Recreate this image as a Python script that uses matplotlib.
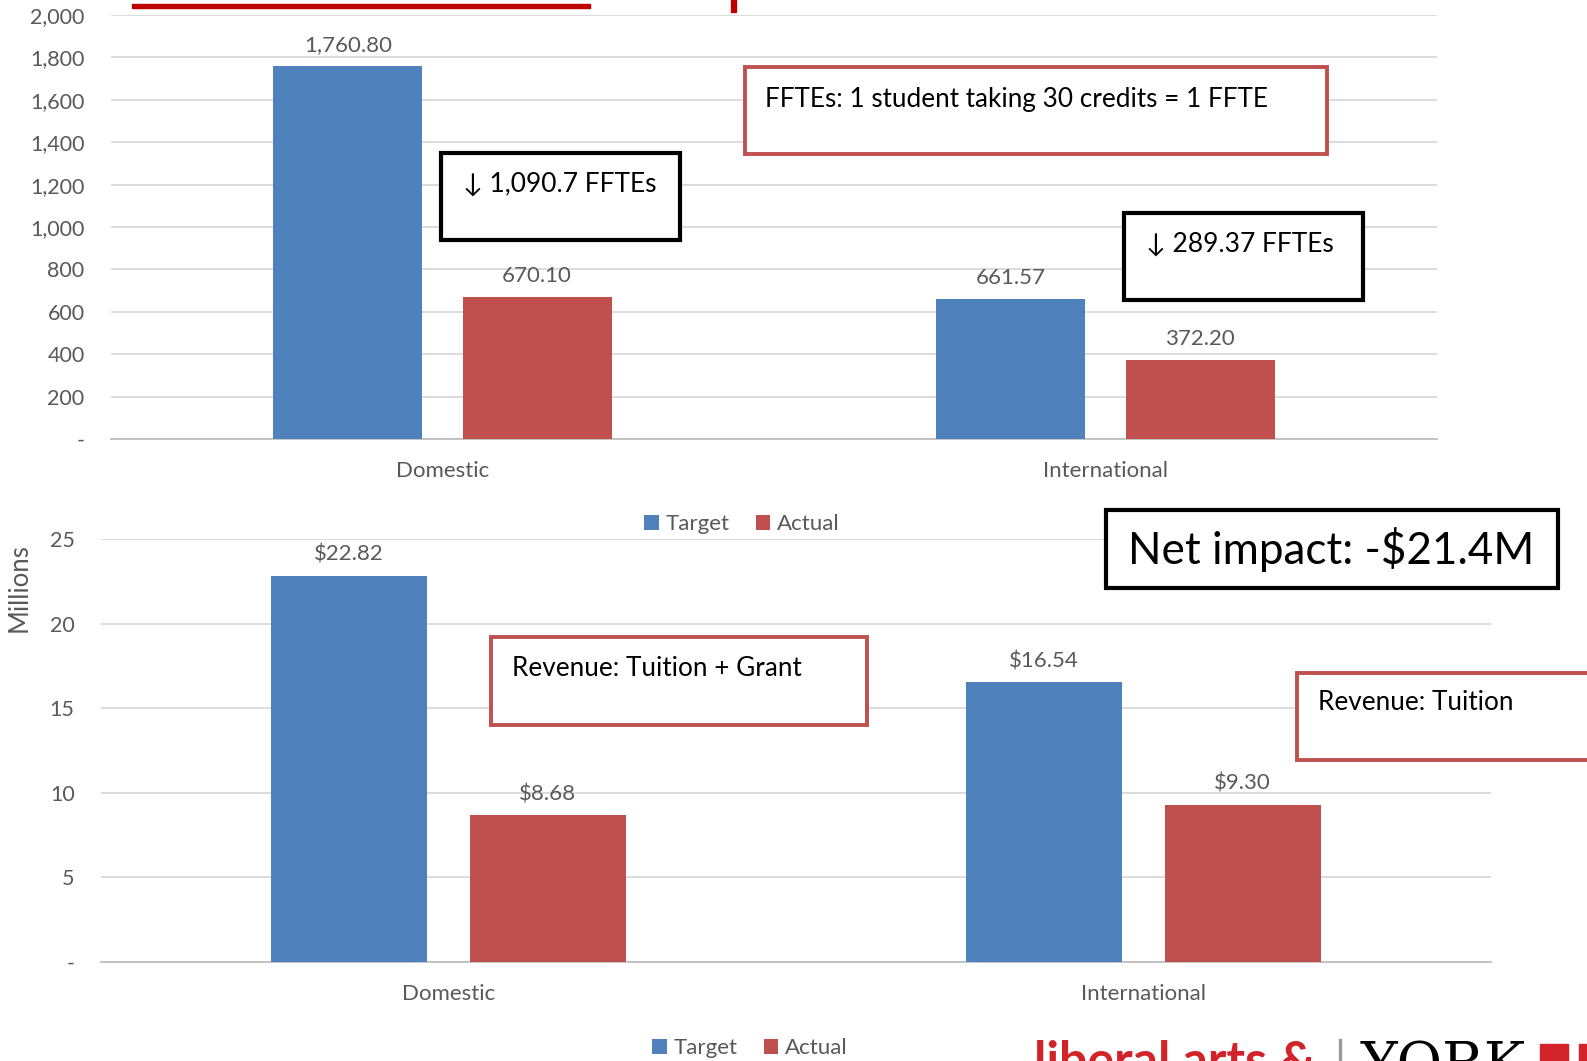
import matplotlib
matplotlib.use("Agg")
import matplotlib.pyplot as plt
from matplotlib.patches import Rectangle
import numpy as np

plt.rcParams['font.family'] = ['Lato', 'DejaVu Sans']

categories = ["Domestic", "International"]
series = ["Target", "Actual"]
ffte_target = [1760.80, 661.57]
ffte_actual = [670.10, 372.20]
rev_target = [22.82, 16.54]
rev_actual = [8.68, 9.30]
ffte_ticks = [0, 200, 400, 600, 800, 1000, 1200, 1400, 1600, 1800, 2000]
rev_ticks = [0, 5, 10, 15, 20, 25]

BLUE = "#4f81bd"
RED = "#c0504d"
GRID = "#d9d9d9"
TXT = "#595959"

W, H = 1587, 1061
fig = plt.figure(figsize=(W / 100, H / 100), dpi=100)


def px_axes(left, top, right, bottom):
    return fig.add_axes([left / W, 1 - bottom / H, (right - left) / W, (bottom - top) / H])


def bar_panel(ax, tgt, act, ticks, ymax, fmt, tick_fmt):
    x = np.arange(len(categories))
    w, off = 0.2244, 0.1428
    b1 = ax.bar(x - off, tgt, w, color=BLUE, label=series[0], zorder=3)
    b2 = ax.bar(x + off, act, w, color=RED, label=series[1], zorder=3)
    for bars in (b1, b2):
        for r in bars:
            ax.annotate(fmt(r.get_height()), (r.get_x() + r.get_width() / 2, r.get_height()),
                        xytext=(0, 8), textcoords="offset points", ha="center", va="bottom",
                        fontsize=16, color=TXT)
    ax.set_xlim(-0.5, len(categories) - 0.5)
    ax.set_ylim(0, ymax)
    ax.set_yticks(ticks)
    ax.set_yticklabels([tick_fmt(t) for t in ticks])
    ax.set_xticks(x)
    ax.set_xticklabels(categories)
    ax.yaxis.grid(True, color=GRID, lw=1.3, zorder=0)
    ax.set_axisbelow(True)
    for s in ("top", "right", "left"):
        ax.spines[s].set_visible(False)
    ax.spines["bottom"].set_color("#bfbfbf")
    ax.spines["bottom"].set_linewidth(1.3)
    ax.tick_params(axis="y", length=0, pad=19, labelsize=15.5, labelcolor=TXT)
    ax.tick_params(axis="x", length=0, pad=16, labelsize=16, labelcolor=TXT)


ax1 = px_axes(111, 15, 1437, 439)
bar_panel(ax1, ffte_target, ffte_actual, ffte_ticks, 2000,
          lambda v: f"{v:,.2f}", lambda t: "-" if t == 0 else f"{t:,}")
ax1.legend(loc="center", bbox_to_anchor=(742 / W, 1 - 524 / H), bbox_transform=fig.transFigure,
           ncol=2, frameon=False, fontsize=16, handlelength=0.65, handleheight=0.65,
           handletextpad=0.3, columnspacing=1.2, labelcolor=TXT)

ax2 = px_axes(101, 539, 1491, 962)
bar_panel(ax2, rev_target, rev_actual, rev_ticks, 25,
          lambda v: f"${v:.2f}", lambda t: "-" if t == 0 else f"{t}")
ax2.set_ylabel("Millions", fontsize=18.5, color=TXT)
ax2.yaxis.set_label_coords(-0.050, 0.885)
ax2.legend(loc="center", bbox_to_anchor=(750 / W, 1 - 1048 / H), bbox_transform=fig.transFigure,
           ncol=2, frameon=False, fontsize=16, handlelength=0.65, handleheight=0.65,
           handletextpad=0.3, columnspacing=1.2, labelcolor=TXT)


def box(left, top, right, bottom, edge, lw, text, tx, ty, size):
    fig.patches.append(Rectangle((left / W, 1 - bottom / H), (right - left) / W, (bottom - top) / H,
                                 transform=fig.transFigure, fill=True, facecolor="white",
                                 edgecolor=edge, lw=lw, zorder=5))
    fig.text(tx / W, 1 - ty / H, text, fontsize=size, color="black", ha="left", va="center", zorder=6)


box(745, 67, 1327, 154, RED, 2.8, "FFTEs: 1 student taking 30 credits = 1 FFTE", 765, 99, 18.8)
box(441, 153, 680, 240, "black", 3.0, "\u2193 1,090.7 FFTEs", 463, 184, 19)
box(1124, 213, 1363, 300, "black", 3.0, "\u2193 289.37 FFTEs", 1146, 244, 19)
box(1106, 510, 1558, 588, "black", 3.0, "Net impact: -$21.4M", 1128, 550, 31.7)
box(491, 637, 867, 725, RED, 2.8, "Revenue: Tuition + Grant", 512, 668, 18.8)
box(1297, 673, 1595, 760, RED, 2.8, "Revenue: Tuition", 1318, 703, 18.8)

# red rule and stub at the top edge
fig.patches.append(Rectangle((132 / W, 1 - 8 / H), (590 - 132) / W, 4 / H,
                             transform=fig.transFigure, color="#c00000", zorder=5))
fig.patches.append(Rectangle((731 / W, 1 - 12 / H), 5 / W, 12 / H,
                             transform=fig.transFigure, color="#c00000", zorder=5))

# logo, cut off by the bottom edge as in the slide
fig.text(1034 / W, 1 - 1040 / H, "liberal arts &", fontsize=36, color="#d2232a",
         ha="left", va="top", fontweight="bold")
fig.patches.append(Rectangle((1339 / W, 0), 2 / W, 22 / H, transform=fig.transFigure, color="#999999"))
fig.text(1361 / W, 1 - 1040 / H, "YORK", fontsize=40, color="black", family="DejaVu Serif",
         ha="left", va="top")
fig.patches.append(Rectangle((1540 / W, 0), 28 / W, 17 / H, transform=fig.transFigure, color="#d2232a"))
fig.patches.append(Rectangle((1579 / W, 0), 8 / W, 17 / H, transform=fig.transFigure, color="#d2232a"))

fig.savefig("out.png", dpi=100)
